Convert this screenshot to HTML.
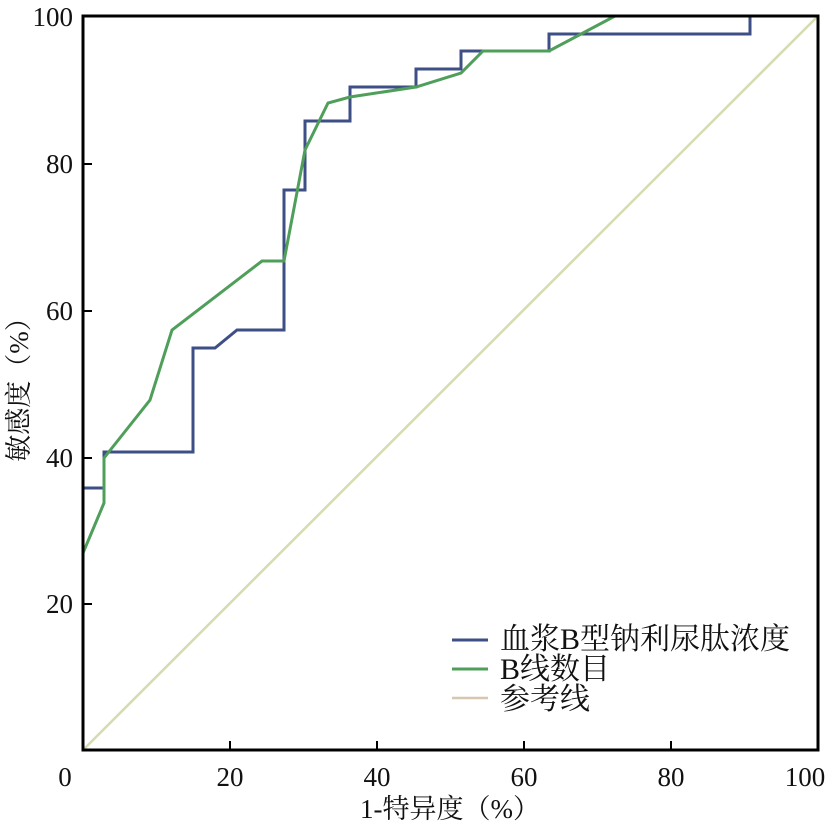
<!DOCTYPE html>
<html><head><meta charset="utf-8"><style>
body{margin:0;background:#fff;}
svg text{font-family:"Liberation Serif","Noto Serif CJK SC",serif;fill:#111;}
</style></head><body>
<svg width="827" height="826" viewBox="0 0 827 826" xmlns="http://www.w3.org/2000/svg">
<rect width="827" height="826" fill="#fff"/>
<line x1="83" y1="750" x2="818" y2="16" stroke="#d6dbb0" stroke-width="2.5"/>
<polyline fill="none" stroke="#3d4f86" stroke-width="3" points="83,488 104,488 104,452 193,452 193,348 215,348 237,330 284,330 284,190 305,190 305,121 350,121 350,87 416,87 416,69 461,69 461,51 549,51 549,34 750,34 750,16 818,16"/>
<polyline fill="none" stroke="#4f9f5a" stroke-width="3" points="83,553 104,503 104,458 150,400 172,330 262,261 284,261 305,150 328,103 350,97 416,87 461,73 483,51 549,51 615,16 818,16"/>
<rect x="83" y="16" width="735" height="734" fill="none" stroke="#000" stroke-width="3"/>
<g stroke="#000" stroke-width="2">
<line x1="230" y1="750" x2="230" y2="741"/><line x1="377" y1="750" x2="377" y2="741"/><line x1="524" y1="750" x2="524" y2="741"/><line x1="671" y1="750" x2="671" y2="741"/>
<line x1="83" y1="164" x2="92" y2="164"/><line x1="83" y1="311" x2="92" y2="311"/><line x1="83" y1="458" x2="92" y2="458"/><line x1="83" y1="604" x2="92" y2="604"/>
</g>
<g font-size="27" text-anchor="middle">
<text x="65" y="786">0</text><text x="230" y="786">20</text><text x="377" y="786">40</text><text x="524" y="786">60</text><text x="671" y="786">80</text><text x="805" y="786">100</text>
</g>
<g font-size="27" text-anchor="end">
<text x="73" y="26">100</text><text x="73" y="173">80</text><text x="73" y="320">60</text><text x="73" y="467">40</text><text x="73" y="613">20</text>
</g>
<text x="450" y="818" font-size="27" text-anchor="middle">1-特异度（%）</text>
<text transform="translate(28,383) rotate(-90)" font-size="27" text-anchor="middle">敏感度（%）</text>
<line x1="452" y1="640" x2="488" y2="640" stroke="#3d4f86" stroke-width="3"/>
<line x1="452" y1="669" x2="488" y2="669" stroke="#4f9f5a" stroke-width="3"/>
<line x1="452" y1="698" x2="488" y2="698" stroke="#d6c8b0" stroke-width="2.5"/>
<g font-size="30">
<text x="500" y="649">血浆B型钠利尿肽浓度</text>
<text x="500" y="679">B线数目</text>
<text x="500" y="709">参考线</text>
</g>
</svg>
</body></html>
